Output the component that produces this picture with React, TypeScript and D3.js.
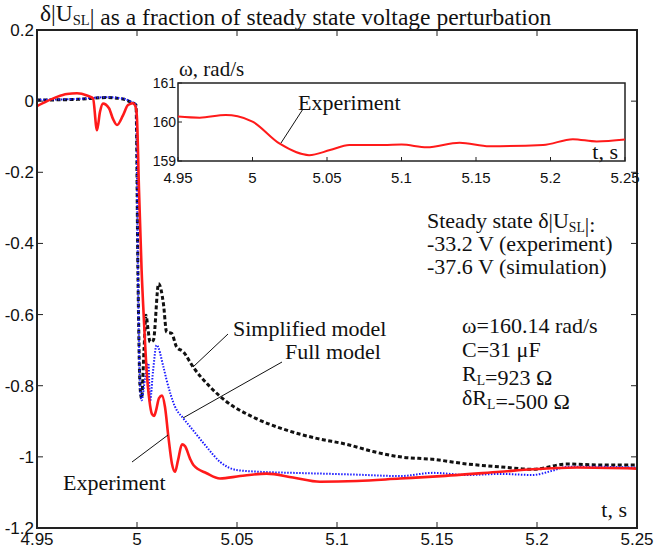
import React from 'react';
import * as d3 from 'd3';

// main plot data
const tExp = [4.95, 4.955, 4.96, 4.965, 4.97, 4.975, 4.978, 4.98, 4.9815, 4.983, 4.986, 4.988, 4.99, 4.993, 4.9955, 4.998, 4.9995, 5.0, 5.001, 5.0023, 5.0035, 5.0048, 5.0062, 5.0075, 5.0085, 5.0095, 5.011, 5.0125, 5.014, 5.0157, 5.0175, 5.019, 5.0205, 5.0225, 5.024, 5.0265, 5.0282, 5.0348, 5.0415, 5.0515, 5.0648, 5.078, 5.0915, 5.11, 5.1315, 5.15, 5.1815, 5.198, 5.22, 5.25];
const vExp = [-0.014, 0.0, 0.012, 0.02, 0.022, 0.016, 0.008, -0.082, -0.03, -0.007, -0.02, -0.05, -0.067, -0.04, -0.011, -0.006, -0.02, -0.05, -0.25, -0.475, -0.62, -0.756, -0.841, -0.88, -0.885, -0.87, -0.835, -0.828, -0.86, -0.944, -1.02, -1.042, -1.01, -0.965, -0.97, -1.005, -1.023, -1.046, -1.061, -1.054, -1.047, -1.058, -1.07, -1.068, -1.061, -1.055, -1.042, -1.035, -1.03, -1.033];

const tSimp = [4.95, 4.97, 4.985, 4.993, 4.9965, 4.9995, 5.0005, 5.0015, 5.0023, 5.0035, 5.0045, 5.0055, 5.0065, 5.0082, 5.0108, 5.0132, 5.0148, 5.0173, 5.0198, 5.0232, 5.028, 5.0365, 5.0448, 5.058, 5.0748, 5.0898, 5.105, 5.118, 5.1315, 5.148, 5.165, 5.1815, 5.198, 5.215, 5.2315, 5.25];
const vSimp = [0.003, 0.005, 0.01, 0.006, -0.002, -0.011, -0.5, -0.8, -0.836, -0.7, -0.602, -0.64, -0.677, -0.672, -0.513, -0.569, -0.649, -0.653, -0.691, -0.705, -0.747, -0.803, -0.845, -0.888, -0.925, -0.948, -0.965, -0.985, -1.0, -1.007, -1.02, -1.028, -1.035, -1.02, -1.023, -1.023];

const tFull = [4.95, 4.97, 4.985, 4.993, 4.9965, 4.9995, 5.0005, 5.0015, 5.0023, 5.004, 5.0057, 5.0065, 5.008, 5.0098, 5.0132, 5.0148, 5.019, 5.0232, 5.028, 5.0348, 5.0415, 5.0498, 5.0615, 5.078, 5.0915, 5.11, 5.1315, 5.148, 5.165, 5.1815, 5.198, 5.207, 5.215, 5.2315, 5.25];
const vFull = [0.004, 0.006, 0.011, 0.007, 0.0, -0.01, -0.5, -0.8, -0.841, -0.78, -0.737, -0.845, -0.76, -0.686, -0.747, -0.784, -0.859, -0.892, -0.925, -0.972, -1.014, -1.037, -1.042, -1.045, -1.047, -1.05, -1.054, -1.045, -1.051, -1.048, -1.051, -1.04, -1.028, -1.028, -1.03];

// inset: rotor speed
const tOmega = [4.95, 4.9646, 4.982, 4.99, 5.0, 5.018, 5.038, 5.052, 5.065, 5.088, 5.1, 5.117, 5.139, 5.159, 5.195, 5.215, 5.231, 5.25];
const vOmega = [160.14, 160.11, 160.18, 160.15, 160.01, 159.45, 159.15, 159.28, 159.41, 159.41, 159.42, 159.35, 159.47, 159.38, 159.41, 159.56, 159.5, 159.55];

const xTicks = [4.95, 5, 5.05, 5.1, 5.15, 5.2, 5.25];
const yTicks = [0.2, 0, -0.2, -0.4, -0.6, -0.8, -1, -1.2];
const insetYTicks = [161, 160, 159];

const SERIF = '"Liberation Serif", "Times New Roman", serif';
const SANS = '"Liberation Sans", Arial, sans-serif';

const W = 656;
const H = 552;

const Sub = ({ children }: { children: string }) => (
  <tspan fontSize="0.62em" dy={4}>{children}</tspan>
);
const Up = () => <tspan dy={-4}></tspan>;

export default function App() {
  const x = d3.scaleLinear().domain([4.95, 5.25]).range([37, 637]);
  const y = d3.scaleLinear().domain([0.2, -1.2]).range([30, 528]);

  const xi = d3.scaleLinear().domain([4.95, 5.25]).range([178, 625]);
  const yi = d3.scaleLinear().domain([161, 159]).range([83, 161]);

  const line = d3.line<[number, number]>()
    .x(d => x(d[0]))
    .y(d => y(d[1]))
    .curve(d3.curveMonotoneX);
  const lineInset = d3.line<[number, number]>()
    .x(d => xi(d[0]))
    .y(d => yi(d[1]))
    .curve(d3.curveMonotoneX);

  const zip = (a: number[], b: number[]) => a.map((t, i) => [t, b[i]] as [number, number]);

  const fmt = (v: number) => String(+v.toFixed(2));

  return (
    <svg width={W} height={H} style={{ position: 'absolute', left: 0, top: 0, background: '#fff' }}>
      <rect width={W} height={H} fill="#fff" />

      {/* title */}
      <text x={40} y={21} fontFamily={SERIF} fontSize={23.5} fill="#111">
        δ|U<Sub>SL</Sub><Up />| as a fraction of steady state voltage perturbation
      </text>

      {/* curves */}
      <path d={line(zip(tSimp, vSimp)) || ''} fill="none" stroke="#111" strokeWidth={3} strokeDasharray="4,2.5" />
      <path d={line(zip(tFull, vFull)) || ''} fill="none" stroke="#1a1aff" strokeWidth={2} strokeDasharray="1.5,1.5" />
      <path d={line(zip(tExp, vExp)) || ''} fill="none" stroke="#ff1a1a" strokeWidth={2.6} strokeLinejoin="round" />

      {/* frame */}
      <rect x={37} y={30} width={600} height={498} fill="none" stroke="#222" strokeWidth={2} />
      {xTicks.slice(1, -1).map(t => (
        <g key={'xt' + t}>
          <line x1={x(t)} x2={x(t)} y1={528} y2={522} stroke="#222" strokeWidth={1} />
          <line x1={x(t)} x2={x(t)} y1={30} y2={36} stroke="#222" strokeWidth={1} />
        </g>
      ))}
      {yTicks.slice(1, -1).map(v => (
        <g key={'yt' + v}>
          <line x1={37} x2={43} y1={y(v)} y2={y(v)} stroke="#222" strokeWidth={1} />
          <line x1={637} x2={631} y1={y(v)} y2={y(v)} stroke="#222" strokeWidth={1} />
        </g>
      ))}
      {xTicks.map(t => (
        <text key={'xl' + t} x={x(t)} y={545} textAnchor="middle" fontFamily={SANS} fontSize={17} fill="#111">{fmt(t)}</text>
      ))}
      {yTicks.map(v => (
        <text key={'yl' + v} x={34} y={y(v) + 6} textAnchor="end" fontFamily={SANS} fontSize={17} fill="#111">{fmt(v)}</text>
      ))}
      <text x={627} y={517} textAnchor="end" fontFamily={SERIF} fontSize={22} fill="#111">t, s</text>

      {/* inset */}
      <rect x={178} y={83} width={447} height={78} fill="#fff" stroke="#222" strokeWidth={1.5} />
      <path d={lineInset(zip(tOmega, vOmega)) || ''} fill="none" stroke="#ff1a1a" strokeWidth={2} />
      {insetYTicks.map(v => (
        <g key={'iy' + v}>
          <line x1={178} x2={182} y1={yi(v)} y2={yi(v)} stroke="#222" strokeWidth={1} />
          <text x={176} y={yi(v) + 5} textAnchor="end" fontFamily={SANS} fontSize={14} fill="#111">{v}</text>
        </g>
      ))}
      {xTicks.map(t => (
        <g key={'ix' + t}>
          <line x1={xi(t)} x2={xi(t)} y1={161} y2={157} stroke="#222" strokeWidth={1} />
          <text x={xi(t)} y={183} textAnchor="middle" fontFamily={SANS} fontSize={15} fill="#111">{fmt(t)}</text>
        </g>
      ))}
      <text x={179} y={76} fontFamily={SERIF} fontSize={21} fill="#111">ω, rad/s</text>
      <text x={618} y={159} textAnchor="end" fontFamily={SERIF} fontSize={22} fill="#111">t, s</text>
      <text x={298} y={110} fontFamily={SERIF} fontSize={22} fill="#111">Experiment</text>
      <line x1={303} y1={109} x2={281} y2={143} stroke="#111" strokeWidth={1} />

      {/* annotations */}
      <g fontFamily={SERIF} fontSize={22} fill="#111">
        <text x={427} y={228}>Steady state δ|U<Sub>SL</Sub><Up />|:</text>
        <text x={427} y={251}>-33.2 V (experiment)</text>
        <text x={427} y={274}>-37.6 V (simulation)</text>
        <text x={462} y={333}>ω=160.14 rad/s</text>
        <text x={462} y={357}>C=31 μF</text>
        <text x={462} y={381}>R<Sub>L</Sub><Up />=923 Ω</text>
        <text x={462} y={405}>δR<Sub>L</Sub><Up />=-500 Ω</text>

        <text x={233} y={336}>Simplified model</text>
        <text x={285} y={359}>Full model</text>
        <text x={63} y={490}>Experiment</text>
      </g>
      <line x1={228} y1={334} x2={193} y2={367} stroke="#111" strokeWidth={1} />
      <line x1={282} y1={362} x2={183} y2={418} stroke="#111" strokeWidth={1} />
      <line x1={132} y1={462} x2={168} y2={435} stroke="#111" strokeWidth={1} />
    </svg>
  );
}
